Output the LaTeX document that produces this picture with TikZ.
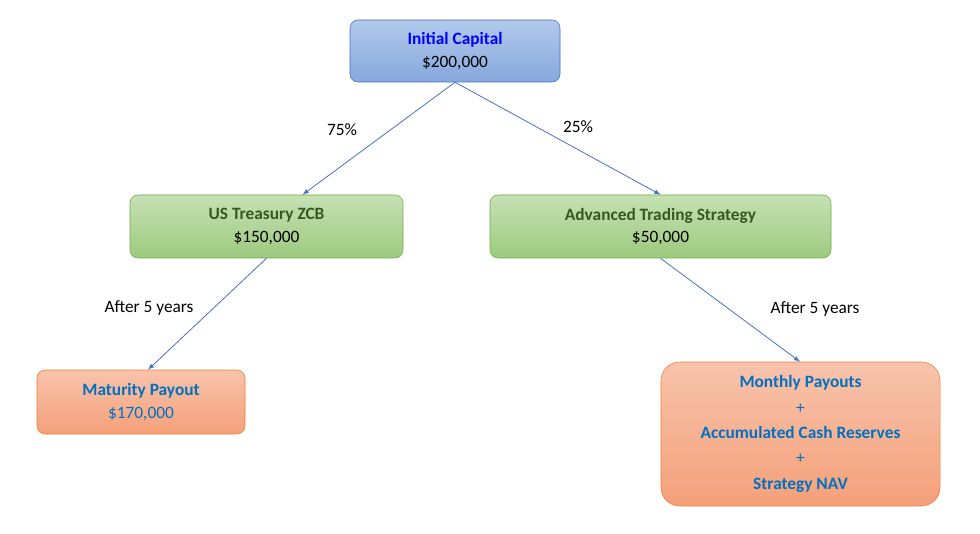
\documentclass[tikz,border=0pt]{standalone}
\usepackage{fontspec}
\setmainfont{Carlito}
\usetikzlibrary{calc}
\definecolor{bluetop}{RGB}{178,201,235}
\definecolor{bluebot}{RGB}{134,168,221}
\definecolor{blueline}{RGB}{65,113,196}
\definecolor{greentop}{RGB}{198,225,180}
\definecolor{greenbot}{RGB}{156,202,126}
\definecolor{greenline}{RGB}{112,173,71}
\definecolor{orangetop}{RGB}{248,195,172}
\definecolor{orangebot}{RGB}{244,160,121}
\definecolor{orangeline}{RGB}{237,125,49}
\definecolor{dkgreen}{RGB}{56,87,35}
\definecolor{txtblue}{RGB}{0,112,192}
\definecolor{arrowc}{RGB}{68,114,196}
\tikzset{
 box/.style={draw, rounded corners=6pt, align=center, font=\fontsize{13}{17}\selectfont, inner sep=0pt},
 bluebox/.style={box, draw=blueline, top color=bluetop, bottom color=bluebot},
 greenbox/.style={box, draw=greenline, top color=greentop, bottom color=greenbot},
 orangebox/.style={box, draw=orangeline, top color=orangetop, bottom color=orangebot},
 conn/.style={draw=arrowc, -latex, line width=0.6pt},
 lbl/.style={font=\fontsize{13}{16}\selectfont}
}
\begin{document}
\begin{tikzpicture}[x=0.75pt,y=-0.75pt]
\useasboundingbox (0,0) rectangle (980,534);
\node[bluebox, minimum width=210*0.75pt, minimum height=62*0.75pt] (ic) at (455,51)
 {\textcolor{blue}{\textbf{Initial Capital}}\\\$200,000};
\node[greenbox, minimum width=273*0.75pt, minimum height=63*0.75pt] (ust) at (266.5,226.5)
 {\textcolor{dkgreen}{\textbf{US Treasury ZCB}}\\\$150,000};
\node[greenbox, minimum width=341*0.75pt, minimum height=63*0.75pt] (ats) at (660.5,226.5)
 {\textcolor{dkgreen}{\textbf{Advanced Trading Strategy}}\\\$50,000};
\node[orangebox, minimum width=208*0.75pt, minimum height=64*0.75pt] (mp) at (141,402)
 {\textcolor{txtblue}{\textbf{Maturity Payout}}\\\textcolor{txtblue}{\$170,000}};
\node[orangebox, rounded corners=14pt, minimum width=279*0.75pt, minimum height=144*0.75pt, font=\fontsize{13}{19}\selectfont] (mo) at (800.5,434)
 {\textcolor{txtblue}{\textbf{Monthly Payouts}}\\\textcolor{txtblue}{+}\\\textcolor{txtblue}{\textbf{Accumulated Cash Reserves}}\\\textcolor{txtblue}{+}\\\textcolor{txtblue}{\textbf{Strategy NAV}}};
\draw[conn] (ic.south) -- ($(ust.north)+(36,0)$);
\draw[conn] (ic.south) -- (ats.north);
\draw[conn] (ust.south) -- ($(mp.north)+(7,0)$);
\draw[conn] (ats.south) -- ($(mo.north)+(-0.5,0)$);
\node[lbl] (l1) at (342,130) {75\%};
\node[lbl] (l2) at (578,127) {25\%};
\node[lbl] (l3) at (149,308) {After 5 years};
\node[lbl] (l4) at (815,309) {After 5 years};
\end{tikzpicture}
\end{document}
